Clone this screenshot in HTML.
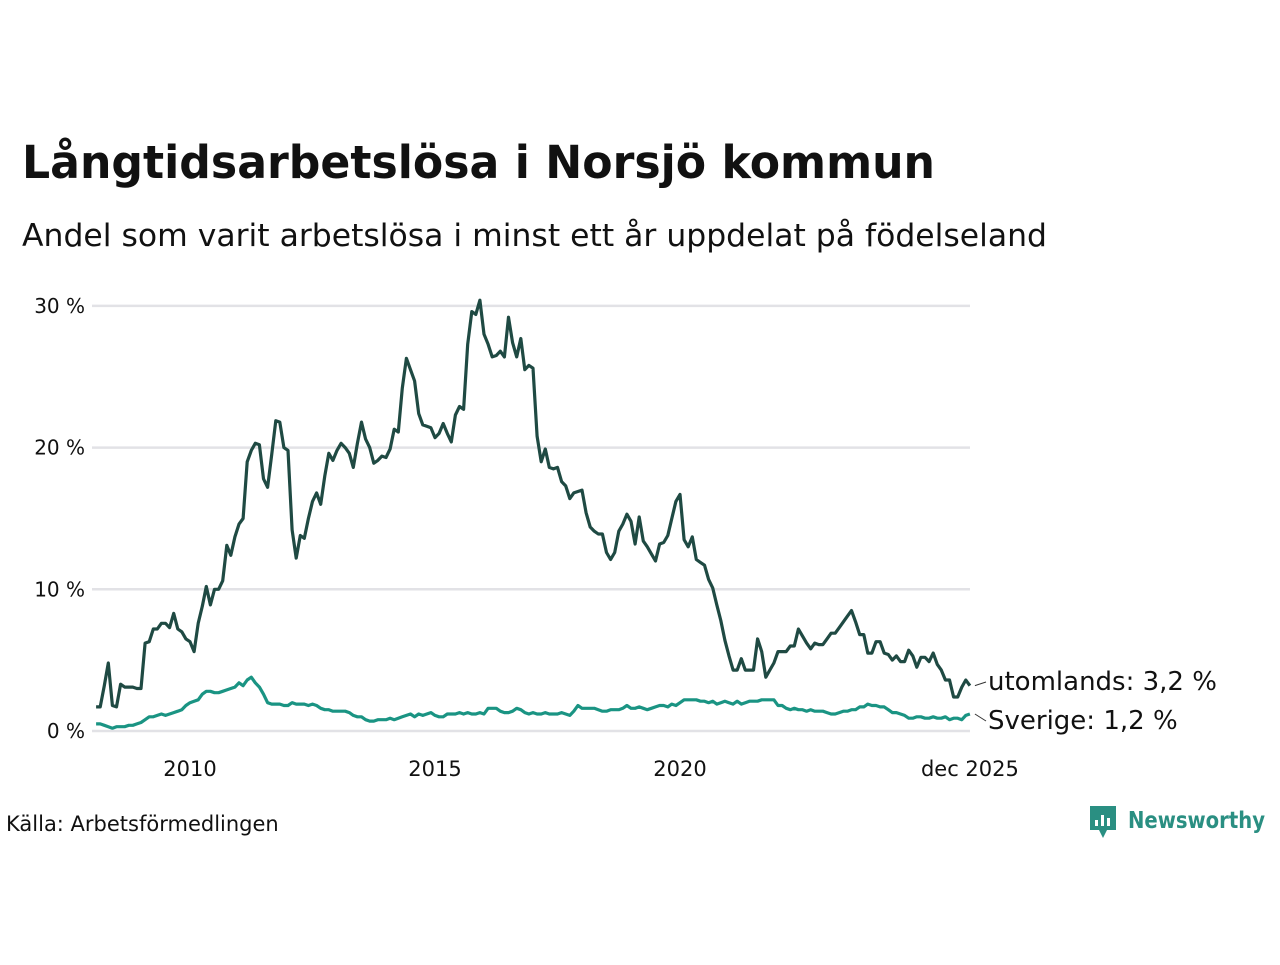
<!DOCTYPE html>
<html><head><meta charset="utf-8"><style>
body{margin:0;width:1280px;height:960px;background:#fff;font-family:"Liberation Sans","DejaVu Sans",sans-serif;overflow:hidden}
</style></head><body>
<svg width="1280" height="960" font-family="'DejaVu Sans','Liberation Sans',sans-serif">
<text x="22" y="178" font-size="45" font-weight="bold" fill="#111" textLength="913" lengthAdjust="spacingAndGlyphs">Långtidsarbetslösa i Norsjö kommun</text>
<text x="22" y="246" font-size="31.5" fill="#111" textLength="1025" lengthAdjust="spacingAndGlyphs">Andel som varit arbetslösa i minst ett år uppdelat på födelseland</text>
<g id="grid"></g><g id="lines"></g>
<text x="6" y="831" font-size="21" fill="#111">Källa: Arbetsförmedlingen</text>
<g>
<path d="M1090 806h26v24h-9l-4 8-4-8h-9z" fill="#2a8f82"/>
<rect x="1095" y="820" width="3" height="6" fill="#fff"/><rect x="1101" y="815" width="3" height="11" fill="#fff"/><rect x="1107" y="818" width="3" height="8" fill="#fff"/>
<text x="1128" y="828" font-size="23" font-weight="bold" fill="#2a8f82" textLength="137" lengthAdjust="spacingAndGlyphs">Newsworthy</text>
</g>
</svg>
<script>
const yTicks=[0,10,20,30];
const xTicks=[2010,2015,2020];
const utomlands=[1.7,1.7,3.2,4.8,1.8,1.7,3.3,3.1,3.1,3.1,3.0,
3.0,6.2,6.3,7.2,7.2,7.6,7.6,7.3,8.3,7.2,7.0,6.5,
6.3,5.6,7.6,8.8,10.2,8.9,10.0,10.0,10.6,13.1,12.4,13.7,
14.6,15.0,19.0,19.8,20.3,20.2,17.8,17.2,19.5,21.9,21.8,20.0,
19.8,14.2,12.2,13.8,13.6,15.0,16.2,16.8,16.0,18.0,19.6,19.1,
19.8,20.3,20.0,19.6,18.6,20.3,21.8,20.6,20.0,18.9,19.1,19.4,
19.3,19.9,21.3,21.1,24.2,26.3,25.5,24.7,22.4,21.6,21.5,21.4,
20.7,21.0,21.7,21.0,20.4,22.3,22.9,22.7,27.3,29.6,29.4,30.4,
28.0,27.3,26.4,26.5,26.8,26.4,29.2,27.4,26.4,27.7,25.5,25.8,
25.6,20.8,19.0,19.9,18.6,18.5,18.6,17.6,17.3,16.4,16.8,16.9,
17.0,15.4,14.4,14.1,13.9,13.9,12.6,12.1,12.6,14.1,14.6,15.3,
14.8,13.2,15.1,13.4,13.0,12.5,12.0,13.2,13.3,13.8,15.0,16.2,
16.7,13.5,13.0,13.7,12.1,11.9,11.7,10.7,10.1,8.9,7.8,6.4,
5.3,4.3,4.3,5.1,4.3,4.3,4.3,6.5,5.6,3.8,4.3,4.8,
5.6,5.6,5.6,6.0,6.0,7.2,6.7,6.2,5.8,6.2,6.1,6.1,
6.5,6.9,6.9,7.3,7.7,8.1,8.5,7.7,6.8,6.8,5.5,5.5,
6.3,6.3,5.5,5.4,5.0,5.3,4.9,4.9,5.7,5.3,4.5,5.2,
5.2,4.9,5.5,4.7,4.3,3.6,3.6,2.4,2.4,3.1,3.6,3.2];
const sverige=[0.5,0.5,0.4,0.3,0.2,0.3,0.3,0.3,0.4,0.4,0.5,
0.6,0.8,1.0,1.0,1.1,1.2,1.1,1.2,1.3,1.4,1.5,1.8,
2.0,2.1,2.2,2.6,2.8,2.8,2.7,2.7,2.8,2.9,3.0,3.1,
3.4,3.2,3.6,3.8,3.4,3.1,2.6,2.0,1.9,1.9,1.9,1.8,
1.8,2.0,1.9,1.9,1.9,1.8,1.9,1.8,1.6,1.5,1.5,1.4,
1.4,1.4,1.4,1.3,1.1,1.0,1.0,0.8,0.7,0.7,0.8,0.8,
0.8,0.9,0.8,0.9,1.0,1.1,1.2,1.0,1.2,1.1,1.2,1.3,
1.1,1.0,1.0,1.2,1.2,1.2,1.3,1.2,1.3,1.2,1.2,1.3,
1.2,1.6,1.6,1.6,1.4,1.3,1.3,1.4,1.6,1.5,1.3,1.2,
1.3,1.2,1.2,1.3,1.2,1.2,1.2,1.3,1.2,1.1,1.4,1.8,
1.6,1.6,1.6,1.6,1.5,1.4,1.4,1.5,1.5,1.5,1.6,1.8,
1.6,1.6,1.7,1.6,1.5,1.6,1.7,1.8,1.8,1.7,1.9,1.8,
2.0,2.2,2.2,2.2,2.2,2.1,2.1,2.0,2.1,1.9,2.0,2.1,
2.0,1.9,2.1,1.9,2.0,2.1,2.1,2.1,2.2,2.2,2.2,2.2,
1.8,1.8,1.6,1.5,1.6,1.5,1.5,1.4,1.5,1.4,1.4,1.4,
1.3,1.2,1.2,1.3,1.4,1.4,1.5,1.5,1.7,1.7,1.9,1.8,
1.8,1.7,1.7,1.5,1.3,1.3,1.2,1.1,0.9,0.9,1.0,1.0,
0.9,0.9,1.0,0.9,0.9,1.0,0.8,0.9,0.9,0.8,1.1,1.2];
const startYear=2008+1/12;
const NS="http://www.w3.org/2000/svg";
const xs=t=>190+(t-2010)*49;
const ys=v=>731-v*14.17;
function mk(tag,attrs,parent,txt){const e=document.createElementNS(NS,tag);for(const k in attrs)e.setAttribute(k,attrs[k]);if(txt!==undefined)e.textContent=txt;parent.appendChild(e);return e;}
const grid=document.getElementById('grid');
yTicks.forEach(v=>{
 const l=mk('line',{x1:92,x2:970,y1:ys(v),y2:ys(v),stroke:'#e2e2e6','stroke-width':2.5},grid);
 
 
 const t=mk('text',{x:85,y:ys(v)+7,'font-size':20,'text-anchor':'end',fill:'#111'},grid,v+' %');
 
 
});
xTicks.forEach(y=>{
 const t=mk('text',{x:xs(y),y:776,'font-size':21,'text-anchor':'middle',fill:'#111'},grid,String(y));
 
 
});
const lastT=startYear+(utomlands.length-1)/12;
const tl=mk('text',{x:xs(lastT),y:776,'font-size':21,'text-anchor':'middle',fill:'#111'},grid,'dec 2025');


const lines=document.getElementById('lines');
function series(arr,color,name,label,ly){
 const d=arr.map((v,i)=>(i?'L':'M')+xs(startYear+i/12).toFixed(1)+' '+ys(v).toFixed(1)).join(' ');
 const p=mk('path',{d:d,fill:'none',stroke:color,'stroke-width':3.2,'stroke-linejoin':'round'},lines);
 
 
 const lv=arr[arr.length-1];
 const c=mk('line',{x1:xs(lastT)+5,y1:ys(lv),x2:986,y2:ly-8,stroke:'#333','stroke-width':1},lines);
 
 
 const t=mk('text',{x:988,y:ly,'font-size':26,fill:'#111'},lines,label+': '+lv.toFixed(1).replace('.',',')+' %');
 
 
}
series(sverige,'#1a9483','sverige','Sverige',729);
series(utomlands,'#1f4a43','utomlands','utomlands',690);
</script>
</body></html>
